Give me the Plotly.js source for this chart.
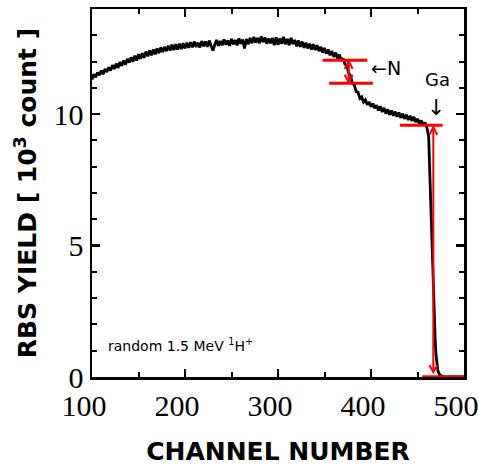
<!DOCTYPE html>
<html>
<head>
<meta charset="utf-8">
<script src="https://cdn.plot.ly/plotly-3.0.1.min.js"></script>
<style>html,body{margin:0;padding:0;background:#fff;}#chart{width:479px;height:466px;}</style>
</head>
<body>
<div id="chart"></div>
<script>
// RBS spectrum, yield in units of 10^3 counts, channels 100..460 step 2
var startChannel = 100;
var channelStep = 2;
var counts = [
  11.32, 11.52, 11.40, 11.58, 11.48, 11.66, 11.52, 11.72, 11.60, 11.78,
  11.66, 11.86, 11.72, 11.92, 11.76, 11.98, 11.84, 12.04, 11.88, 12.10,
  11.96, 12.16, 12.00, 12.22, 12.04, 12.28, 12.10, 12.32, 12.14, 12.38,
  12.20, 12.42, 12.24, 12.46, 12.28, 12.50, 12.32, 12.54, 12.36, 12.56,
  12.40, 12.60, 12.42, 12.64, 12.44, 12.66, 12.46, 12.68, 12.48, 12.70,
  12.50, 12.72, 12.52, 12.74, 12.54, 12.76, 12.56, 12.72, 12.54, 12.78,
  12.58, 12.76, 12.56, 12.80, 12.60, 12.42, 12.64, 12.82, 12.60, 12.78,
  12.62, 12.84, 12.64, 12.80, 12.60, 12.86, 12.66, 12.82, 12.62, 12.88,
  12.68, 12.84, 12.50, 12.86, 12.66, 12.90, 12.70, 12.94, 12.72, 12.90,
  12.70, 12.96, 12.74, 12.92, 12.68, 12.88, 12.70, 12.90, 12.62, 12.92,
  12.64, 12.88, 12.68, 12.94, 12.66, 12.86, 12.62, 12.90, 12.66, 12.82,
  12.58, 12.80, 12.56, 12.76, 12.52, 12.72, 12.50, 12.68, 12.46, 12.66,
  12.44, 12.62, 12.40, 12.56, 12.34, 12.52, 12.30, 12.46, 12.24, 12.40,
  12.18, 12.34, 12.12, 12.26, 12.04, 12.12, 11.90, 11.84, 11.56, 11.46,
  11.16, 11.12, 10.86, 10.84, 10.60, 10.66, 10.46, 10.54, 10.36, 10.46,
  10.28, 10.40, 10.22, 10.34, 10.14, 10.30, 10.08, 10.24, 10.02, 10.18,
  9.98, 10.14, 9.94, 10.10, 9.90, 10.06, 9.86, 10.02, 9.82, 9.98,
  9.78, 9.94, 9.74, 9.90, 9.70, 9.82, 9.64, 9.76, 9.58, 9.68,
  9.50
];
// Ga edge (explicit channels)
var edgeChannels = [462, 463, 464, 465, 466, 467, 468, 469, 470, 471, 472, 474, 476, 478, 480, 490, 500];
var edgeCounts   = [9.15, 8.0, 6.9, 5.8, 4.6, 3.3, 2.1, 1.4, 0.8, 0.4, 0.22, 0.08, 0.03, 0.01, 0, 0, 0];

// marker levels
var nUpper = 12.05, nLower = 11.18, nChannel = 376;
var gaLevel = 9.58, gaChannel = 467;

var xRange = [100, 500];
var yRange = [0, 14];

var xs = [], ys = [];
for (var i = 0; i < counts.length; i++) { xs.push(startChannel + i * channelStep); ys.push(counts[i]); }
for (var j = 0; j < edgeChannels.length; j++) { xs.push(edgeChannels[j]); ys.push(edgeCounts[j]); }

var trace = {
  x: xs, y: ys, type: 'scatter', mode: 'lines',
  line: {color: '#000', width: 2.8}, hoverinfo: 'skip'
};

var red = '#ff0000';
function hline(x0, x1, y, w) {
  return {type: 'line', xref: 'x', yref: 'y', x0: x0, x1: x1, y0: y, y1: y, line: {color: red, width: w || 3}, layer: 'above'};
}
function vline(x, y0, y1) {
  return {type: 'line', xref: 'x', yref: 'y', x0: x, x1: x, y0: y0, y1: y1, line: {color: red, width: 2}, layer: 'above'};
}
var hw = 4.3, hh = 0.28;
function headUp(x, y) {
  return {type: 'path', xref: 'x', yref: 'y', path: 'M' + (x - hw) + ',' + (y - hh) + ' L' + x + ',' + y + ' L' + (x + hw) + ',' + (y - hh), line: {color: red, width: 2}, layer: 'above'};
}
function headDown(x, y) {
  return {type: 'path', xref: 'x', yref: 'y', path: 'M' + (x - hw) + ',' + (y + hh) + ' L' + x + ',' + y + ' L' + (x + hw) + ',' + (y + hh), line: {color: red, width: 2}, layer: 'above'};
}

var shapes = [
  hline(348, 396, nUpper),
  hline(355, 402, nLower),
  vline(nChannel, nUpper, nLower),
  headUp(nChannel, nUpper - 0.04),
  headDown(nChannel, nLower + 0.04),
  hline(431, 477, gaLevel),
  vline(gaChannel, gaLevel - 0.05, 0.18),
  headUp(gaChannel, gaLevel - 0.08),
  headDown(gaChannel, 0.18),
  hline(455, 500, 0, 3.5)
];

var annFont = {family: 'DejaVu Sans, sans-serif', color: '#000'};
var annotations = [
  {x: 416, y: 11.75, xref: 'x', yref: 'y', text: '\u2190N', showarrow: false, font: Object.assign({size: 19}, annFont)},
  {x: 471, y: 11.33, xref: 'x', yref: 'y', text: 'Ga', showarrow: false, font: Object.assign({size: 18}, annFont)},
  {x: 470, y: 10.27, xref: 'x', yref: 'y', text: '\u2193', showarrow: false, font: Object.assign({size: 22}, annFont)},
  {x: 115, y: 1.22, xref: 'x', yref: 'y', xanchor: 'left', text: 'random 1.5 MeV <sup>1</sup>H<sup>+</sup>', showarrow: false, font: Object.assign({size: 14}, annFont)}
];

var tickFont = {family: 'Liberation Serif, Times New Roman, serif', size: 30, color: '#000'};
var titleFont = {family: 'DejaVu Sans, sans-serif', size: 25, color: '#000', weight: 'bold'};

var layout = {
  width: 479, height: 466,
  margin: {l: 92, r: 15, t: 9, b: 89},
  paper_bgcolor: '#fff', plot_bgcolor: '#fff',
  showlegend: false,
  xaxis: {
    range: xRange, tickmode: 'linear', tick0: 100, dtick: 100,
    showline: true, linecolor: '#000', linewidth: 2.5, mirror: 'allticks',
    ticks: 'inside', ticklen: 8, tickwidth: 2.5, tickcolor: '#000',
    minor: {tickmode: 'linear', tick0: 100, dtick: 50, ticks: 'inside', ticklen: 5, tickwidth: 2, tickcolor: '#000', showgrid: false},
    showgrid: false, zeroline: false, tickfont: tickFont, ticklabelshift: -8,
    title: {text: 'CHANNEL NUMBER', font: titleFont, standoff: 22}
  },
  yaxis: {
    range: yRange, tickmode: 'linear', tick0: 0, dtick: 5,
    showline: true, linecolor: '#000', linewidth: 2.5, mirror: 'allticks',
    ticks: 'inside', ticklen: 8, tickwidth: 2.5, tickcolor: '#000',
    minor: {tickmode: 'linear', tick0: 0, dtick: 1, ticks: 'inside', ticklen: 5, tickwidth: 2, tickcolor: '#000', showgrid: false},
    showgrid: false, zeroline: false, tickfont: tickFont,
    title: {text: 'RBS YIELD [ 10<sup>3</sup> count ]', font: titleFont, standoff: 10}
  },
  shapes: shapes,
  annotations: annotations
};

Plotly.newPlot('chart', [trace], layout, {displayModeBar: false, staticPlot: true});
</script>
</body>
</html>
